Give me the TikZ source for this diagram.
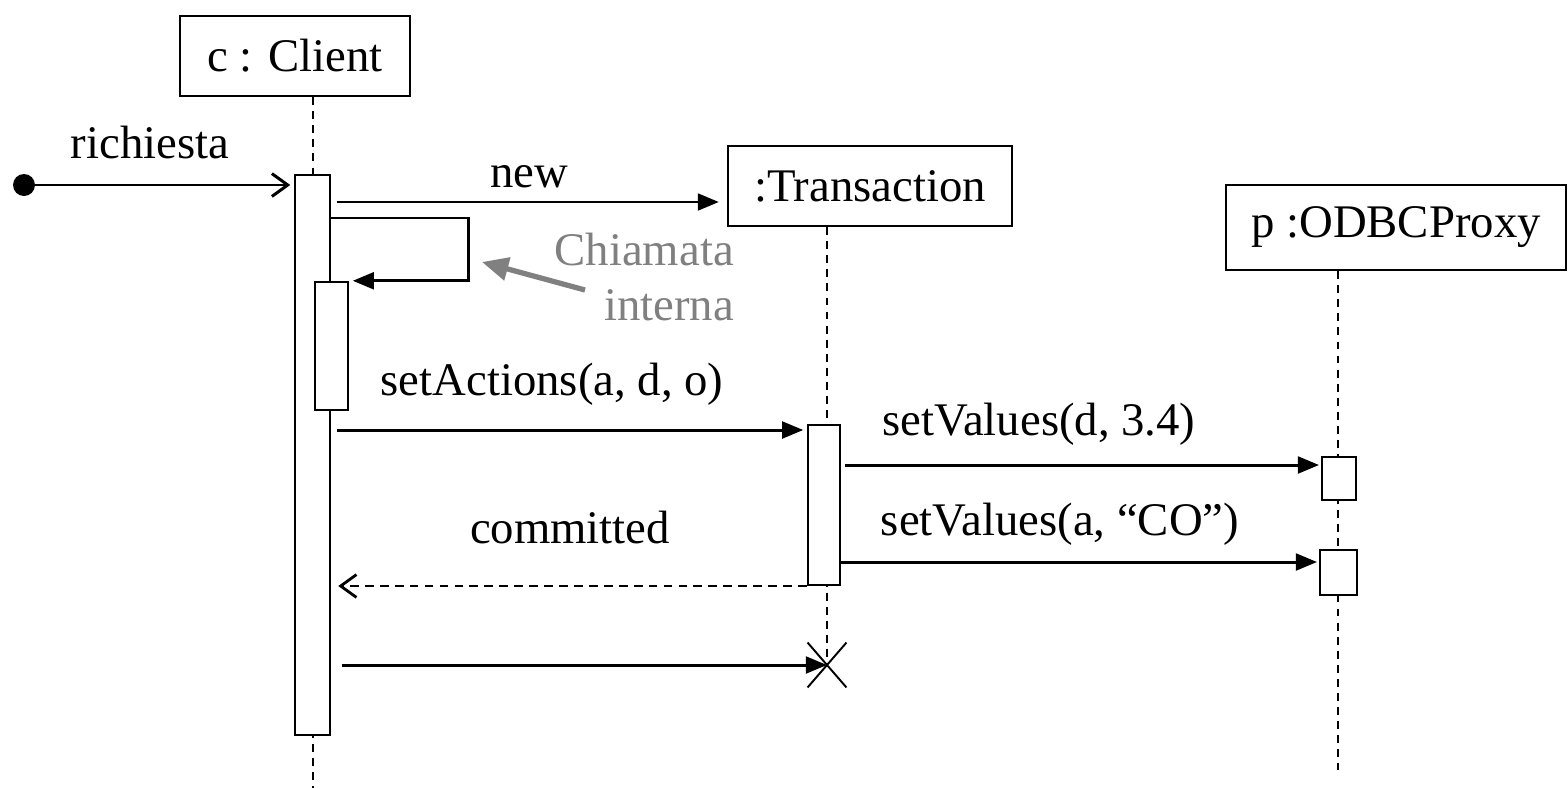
\documentclass[tikz,border=0pt]{standalone}
\usepackage{fontspec}
\setmainfont{Liberation Serif}
\usetikzlibrary{arrows.meta, calc, shapes.misc}

\tikzset{
  obj/.style={draw, line width=1.4pt, fill=white, inner sep=0pt,
    font=\fontsize{26.6}{31.2}\selectfont},
  act/.style={draw, line width=1.4pt, fill=white, inner sep=0pt},
  life/.style={line width=1.1pt, dash pattern=on 4.5pt off 3.5pt},
  call/.style={line width=1.7pt, -{Triangle[length=12pt, width=9.5pt]}},
  reply/.style={line width=1.6pt, dash pattern=on 5pt off 3.5pt,
    -{Straight Barb[length=9pt, width=13pt, line width=1.6pt]}},
  lbl/.style={anchor=base, font=\fontsize{26.6}{31.2}\selectfont},
}

\begin{document}
\begin{tikzpicture}[x=0.02cm, y=-0.02cm]
  \useasboundingbox (0,0) rectangle (1568,788);

  % objects
  \node[obj, minimum width=4.6cm, minimum height=1.6cm] (client) at (295,56) {c : Client};
  \node[obj, minimum width=5.68cm, minimum height=1.6cm] (trans) at (870,186) {:Transaction};
  \node[obj, minimum width=6.8cm, minimum height=1.7cm] (proxy) at (1396,227.5) {p :ODBCProxy};

  % lifelines
  \coordinate (cEnd) at (313,788);
  \coordinate (tEnd) at (827,665);
  \coordinate (pEnd) at (1338,770);
  \draw[life] (client.south -| cEnd) -- (cEnd);
  \draw[life] (trans.south -| tEnd) -- (tEnd);
  \draw[life] (proxy.south -| pEnd) -- (pEnd);

  % activations
  \node[act, minimum width=0.7cm, minimum height=11.2cm] (actC) at (312.5,455) {};
  \node[act, minimum width=0.66cm, minimum height=2.56cm] (actC2) at (331.5,346) {};
  \node[act, minimum width=0.64cm, minimum height=3.2cm] (actT) at (824,505) {};
  \node[act, minimum width=0.68cm, minimum height=0.86cm] (actP1) at (1339,478.5) {};
  \node[act, minimum width=0.74cm, minimum height=0.9cm] (actP2) at (1338.5,572.5) {};
  \node[draw, cross out, line width=1.1pt, minimum width=0.74cm, minimum height=0.86cm] (kill) at (tEnd) {};

  % found message
  \node[circle, fill, inner sep=0pt, minimum size=0.44cm] (start) at (24,185) {};
  \draw[line width=1.7pt, -{Straight Barb[length=9pt, width=13pt, line width=1.7pt]}, shorten >=2pt]
    (start) -- (start -| actC.west);
  \node[lbl] at (150,158) {richiesta};

  % messages
  \draw[call, shorten <=3pt, shorten >=4.5pt] (actC.east |- 0,202) -- (trans.west |- 0,202)
    node[lbl, midway, above=4pt] {new};
  \draw[call, shorten >=2pt] (actC.east |- 0,218) -- (468,218) |- (actC2.north east);
  \draw[call, shorten <=3pt, shorten >=2pt] (actC.east |- 0,430) -- (actT.west |- 0,430);
  \node[lbl] at (552,395) {setActions(a, d, o)};
  \draw[call, shorten <=2pt, shorten >=1pt] (actT.east |- 0,465) -- (actP1.west |- 0,465);
  \node[lbl] at (1039,435) {setValues(d, 3.4)};
  \draw[call, shorten >=1pt] (actT.east |- 0,562) -- (actP2.west |- 0,562);
  \node[lbl] at (1060,535) {setValues(a, “CO”)};
  \draw[reply, shorten >=4pt] (actT.west |- 0,586) -- (actC.east |- 0,586);
  \node[lbl] at (570,543) {committed};
  \draw[call, shorten <=6pt] (actC.east |- 0,665) -- (kill.center);

  % note
  \node[anchor=east, align=right, text=black!50, font=\fontsize{26.6}{31.2}\selectfont]
    (note) at (740,277) {Chiamata\\interna};
  \coordinate (tail) at (585,290);
  \coordinate (head) at (482,262);
  \draw[black!50, line width=3pt, -{Triangle[length=15pt, width=13pt]}] (tail) -- (head);
\end{tikzpicture}
\end{document}
